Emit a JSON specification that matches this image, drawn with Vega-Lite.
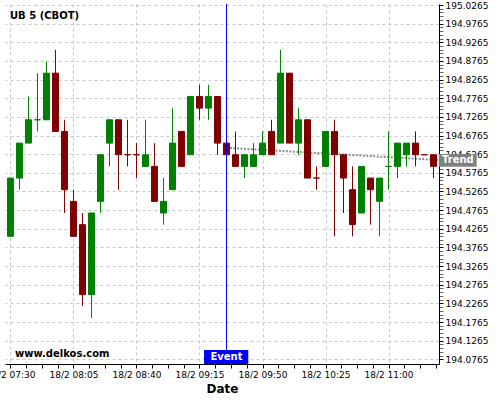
{
  "$schema": "https://vega.github.io/schema/vega-lite/v6.json",
  "width": 434,
  "height": 360,
  "autosize": {"type": "none"},
  "padding": {"left": 5, "top": 4, "right": 61, "bottom": 36},
  "background": "white",
  "config": {"view": {"stroke": null}, "font": "DejaVu Sans"},
  "datasets": {
    "candles": [
      {"t": "2025-02-18T07:30:00", "o": 194.40625, "h": 194.5625, "l": 194.40625, "c": 194.5625, "dir": "up"},
      {"t": "2025-02-18T07:35:00", "o": 194.5625, "h": 194.65625, "l": 194.53125, "c": 194.65625, "dir": "up"},
      {"t": "2025-02-18T07:40:00", "o": 194.65625, "h": 194.78125, "l": 194.65625, "c": 194.71875, "dir": "up"},
      {"t": "2025-02-18T07:45:00", "o": 194.71875, "h": 194.84375, "l": 194.6875, "c": 194.71875, "dir": "up"},
      {"t": "2025-02-18T07:50:00", "o": 194.71875, "h": 194.875, "l": 194.71875, "c": 194.84375, "dir": "up"},
      {"t": "2025-02-18T07:55:00", "o": 194.84375, "h": 194.90625, "l": 194.6875, "c": 194.6875, "dir": "down"},
      {"t": "2025-02-18T08:00:00", "o": 194.6875, "h": 194.71875, "l": 194.46875, "c": 194.53125, "dir": "down"},
      {"t": "2025-02-18T08:05:00", "o": 194.5, "h": 194.53125, "l": 194.40625, "c": 194.40625, "dir": "down"},
      {"t": "2025-02-18T08:10:00", "o": 194.4375, "h": 194.46875, "l": 194.21875, "c": 194.25, "dir": "down"},
      {"t": "2025-02-18T08:15:00", "o": 194.25, "h": 194.46875, "l": 194.1875, "c": 194.46875, "dir": "up"},
      {"t": "2025-02-18T08:20:00", "o": 194.5, "h": 194.625, "l": 194.46875, "c": 194.625, "dir": "up"},
      {"t": "2025-02-18T08:25:00", "o": 194.65625, "h": 194.71875, "l": 194.59375, "c": 194.71875, "dir": "up"},
      {"t": "2025-02-18T08:30:00", "o": 194.71875, "h": 194.71875, "l": 194.53125, "c": 194.625, "dir": "down"},
      {"t": "2025-02-18T08:35:00", "o": 194.625, "h": 194.71875, "l": 194.59375, "c": 194.625, "dir": "down"},
      {"t": "2025-02-18T08:40:00", "o": 194.625, "h": 194.65625, "l": 194.5625, "c": 194.625, "dir": "down"},
      {"t": "2025-02-18T08:45:00", "o": 194.59375, "h": 194.71875, "l": 194.59375, "c": 194.625, "dir": "up"},
      {"t": "2025-02-18T08:50:00", "o": 194.59375, "h": 194.65625, "l": 194.5, "c": 194.5, "dir": "down"},
      {"t": "2025-02-18T08:55:00", "o": 194.46875, "h": 194.5625, "l": 194.4375, "c": 194.5, "dir": "up"},
      {"t": "2025-02-18T09:00:00", "o": 194.53125, "h": 194.75, "l": 194.53125, "c": 194.65625, "dir": "up"},
      {"t": "2025-02-18T09:05:00", "o": 194.6875, "h": 194.6875, "l": 194.59375, "c": 194.59375, "dir": "down"},
      {"t": "2025-02-18T09:10:00", "o": 194.625, "h": 194.78125, "l": 194.625, "c": 194.78125, "dir": "up"},
      {"t": "2025-02-18T09:15:00", "o": 194.78125, "h": 194.8125, "l": 194.71875, "c": 194.75, "dir": "down"},
      {"t": "2025-02-18T09:20:00", "o": 194.75, "h": 194.8125, "l": 194.71875, "c": 194.78125, "dir": "up"},
      {"t": "2025-02-18T09:25:00", "o": 194.78125, "h": 194.78125, "l": 194.625, "c": 194.65625, "dir": "down"},
      {"t": "2025-02-18T09:30:00", "o": 194.65625, "h": 194.65625, "l": 194.625, "c": 194.625, "dir": "down"},
      {"t": "2025-02-18T09:35:00", "o": 194.625, "h": 194.6875, "l": 194.59375, "c": 194.59375, "dir": "down"},
      {"t": "2025-02-18T09:40:00", "o": 194.59375, "h": 194.625, "l": 194.5625, "c": 194.625, "dir": "up"},
      {"t": "2025-02-18T09:45:00", "o": 194.59375, "h": 194.65625, "l": 194.59375, "c": 194.625, "dir": "up"},
      {"t": "2025-02-18T09:50:00", "o": 194.625, "h": 194.6875, "l": 194.625, "c": 194.65625, "dir": "up"},
      {"t": "2025-02-18T09:55:00", "o": 194.6875, "h": 194.71875, "l": 194.625, "c": 194.625, "dir": "down"},
      {"t": "2025-02-18T10:00:00", "o": 194.65625, "h": 194.90625, "l": 194.65625, "c": 194.84375, "dir": "up"},
      {"t": "2025-02-18T10:05:00", "o": 194.84375, "h": 194.84375, "l": 194.65625, "c": 194.65625, "dir": "down"},
      {"t": "2025-02-18T10:10:00", "o": 194.65625, "h": 194.75, "l": 194.625, "c": 194.71875, "dir": "up"},
      {"t": "2025-02-18T10:15:00", "o": 194.71875, "h": 194.71875, "l": 194.5625, "c": 194.5625, "dir": "down"},
      {"t": "2025-02-18T10:20:00", "o": 194.5625, "h": 194.59375, "l": 194.53125, "c": 194.5625, "dir": "down"},
      {"t": "2025-02-18T10:25:00", "o": 194.59375, "h": 194.6875, "l": 194.59375, "c": 194.6875, "dir": "up"},
      {"t": "2025-02-18T10:30:00", "o": 194.6875, "h": 194.71875, "l": 194.40625, "c": 194.625, "dir": "down"},
      {"t": "2025-02-18T10:35:00", "o": 194.625, "h": 194.625, "l": 194.46875, "c": 194.5625, "dir": "down"},
      {"t": "2025-02-18T10:40:00", "o": 194.53125, "h": 194.59375, "l": 194.40625, "c": 194.4375, "dir": "down"},
      {"t": "2025-02-18T10:45:00", "o": 194.46875, "h": 194.59375, "l": 194.46875, "c": 194.59375, "dir": "up"},
      {"t": "2025-02-18T10:50:00", "o": 194.5625, "h": 194.5625, "l": 194.4375, "c": 194.53125, "dir": "down"},
      {"t": "2025-02-18T10:55:00", "o": 194.5, "h": 194.5625, "l": 194.40625, "c": 194.5625, "dir": "up"},
      {"t": "2025-02-18T11:00:00", "o": 194.59375, "h": 194.6875, "l": 194.53125, "c": 194.59375, "dir": "up"},
      {"t": "2025-02-18T11:05:00", "o": 194.59375, "h": 194.65625, "l": 194.5625, "c": 194.65625, "dir": "up"},
      {"t": "2025-02-18T11:10:00", "o": 194.625, "h": 194.65625, "l": 194.59375, "c": 194.65625, "dir": "up"},
      {"t": "2025-02-18T11:15:00", "o": 194.65625, "h": 194.6875, "l": 194.59375, "c": 194.625, "dir": "down"},
      {"t": "2025-02-18T11:20:00", "o": 194.625, "h": 194.625, "l": 194.625, "c": 194.625, "dir": "down"},
      {"t": "2025-02-18T11:25:00", "o": 194.625, "h": 194.625, "l": 194.5625, "c": 194.59375, "dir": "down"}
    ],
    "trend": [
      {"t": "2025-02-18T09:30:00", "v": 194.6436},
      {"t": "2025-02-18T11:28:00", "v": 194.6108}
    ],
    "event": [{"t": "2025-02-18T09:30:00", "label": "Event"}],
    "notes": [{"title": "UB 5 (CBOT)", "site": "www.delkos.com", "trend": "Trend"}]
  },
  "layer": [
    {
      "data": {"name": "trend"},
      "mark": {"type": "line", "color": "#8c8c8c", "strokeWidth": 2, "strokeDash": [2, 1.5]},
      "encoding": {
        "x": {"field": "t", "type": "temporal",
          "scale": {"domain": [{"year": 2025, "month": 2, "date": 18, "hours": 7, "minutes": 26, "seconds": 57}, {"year": 2025, "month": 2, "date": 18, "hours": 11, "minutes": 28, "seconds": 3}], "nice": false, "padding": 0},
          "axis": {
            "title": "Date", "titleFont": "DejaVu Sans", "titleFontSize": 12, "titleFontWeight": "bold", "titleColor": "black", "titlePadding": 4,
            "tickCount": 200,
            "values": [
              {"year": 2025, "month": 2, "date": 18, "hours": 7, "minutes": 30, "seconds": 0},
              {"year": 2025, "month": 2, "date": 18, "hours": 7, "minutes": 38, "seconds": 45},
              {"year": 2025, "month": 2, "date": 18, "hours": 7, "minutes": 47, "seconds": 30},
              {"year": 2025, "month": 2, "date": 18, "hours": 7, "minutes": 56, "seconds": 15},
              {"year": 2025, "month": 2, "date": 18, "hours": 8, "minutes": 5, "seconds": 0},
              {"year": 2025, "month": 2, "date": 18, "hours": 8, "minutes": 13, "seconds": 45},
              {"year": 2025, "month": 2, "date": 18, "hours": 8, "minutes": 22, "seconds": 30},
              {"year": 2025, "month": 2, "date": 18, "hours": 8, "minutes": 31, "seconds": 15},
              {"year": 2025, "month": 2, "date": 18, "hours": 8, "minutes": 40, "seconds": 0},
              {"year": 2025, "month": 2, "date": 18, "hours": 8, "minutes": 48, "seconds": 45},
              {"year": 2025, "month": 2, "date": 18, "hours": 8, "minutes": 57, "seconds": 30},
              {"year": 2025, "month": 2, "date": 18, "hours": 9, "minutes": 6, "seconds": 15},
              {"year": 2025, "month": 2, "date": 18, "hours": 9, "minutes": 15, "seconds": 0},
              {"year": 2025, "month": 2, "date": 18, "hours": 9, "minutes": 23, "seconds": 45},
              {"year": 2025, "month": 2, "date": 18, "hours": 9, "minutes": 32, "seconds": 30},
              {"year": 2025, "month": 2, "date": 18, "hours": 9, "minutes": 41, "seconds": 15},
              {"year": 2025, "month": 2, "date": 18, "hours": 9, "minutes": 50, "seconds": 0},
              {"year": 2025, "month": 2, "date": 18, "hours": 9, "minutes": 58, "seconds": 45},
              {"year": 2025, "month": 2, "date": 18, "hours": 10, "minutes": 7, "seconds": 30},
              {"year": 2025, "month": 2, "date": 18, "hours": 10, "minutes": 16, "seconds": 15},
              {"year": 2025, "month": 2, "date": 18, "hours": 10, "minutes": 25, "seconds": 0},
              {"year": 2025, "month": 2, "date": 18, "hours": 10, "minutes": 33, "seconds": 45},
              {"year": 2025, "month": 2, "date": 18, "hours": 10, "minutes": 42, "seconds": 30},
              {"year": 2025, "month": 2, "date": 18, "hours": 10, "minutes": 51, "seconds": 15},
              {"year": 2025, "month": 2, "date": 18, "hours": 11, "minutes": 0, "seconds": 0},
              {"year": 2025, "month": 2, "date": 18, "hours": 11, "minutes": 8, "seconds": 45},
              {"year": 2025, "month": 2, "date": 18, "hours": 11, "minutes": 17, "seconds": 30},
              {"year": 2025, "month": 2, "date": 18, "hours": 11, "minutes": 26, "seconds": 15}
            ],
            "labelExpr": "seconds(datum.value) == 0 ? timeFormat(datum.value, '%-d/%-m %H:%M') : ''",
            "labelFont": "DejaVu Sans", "labelFontSize": 9, "labelColor": "black",
            "labelOverlap": false, "labelBound": false, "labelFlush": false, "labelPadding": 2,
            "tickColor": "black", "tickSize": 4,
            "domainColor": "black",
            "grid": true, "gridColor": "#c8c8c8", "gridDash": [3, 3],
            "gridOpacity": {"condition": {"test": "seconds(datum.value) == 0", "value": 1}, "value": 0}
          }
        },
        "y": {"field": "v", "type": "quantitative",
          "scale": {"domain": [194.0639, 195.0292], "nice": false, "zero": false, "padding": 0},
          "axis": {
            "orient": "right", "title": null,
            "tickCount": 200,
            "values": [194.0765, 194.0865, 194.0965, 194.1065, 194.1165, 194.1265, 194.1365, 194.1465, 194.1565, 194.1665, 194.1765, 194.1865, 194.1965, 194.2065, 194.2165, 194.2265, 194.2365, 194.2465, 194.2565, 194.2665, 194.2765, 194.2865, 194.2965, 194.3065, 194.3165, 194.3265, 194.3365, 194.3465, 194.3565, 194.3665, 194.3765, 194.3865, 194.3965, 194.4065, 194.4165, 194.4265, 194.4365, 194.4465, 194.4565, 194.4665, 194.4765, 194.4865, 194.4965, 194.5065, 194.5165, 194.5265, 194.5365, 194.5465, 194.5565, 194.5665, 194.5765, 194.5865, 194.5965, 194.6065, 194.6165, 194.6265, 194.6365, 194.6465, 194.6565, 194.6665, 194.6765, 194.6865, 194.6965, 194.7065, 194.7165, 194.7265, 194.7365, 194.7465, 194.7565, 194.7665, 194.7765, 194.7865, 194.7965, 194.8065, 194.8165, 194.8265, 194.8365, 194.8465, 194.8565, 194.8665, 194.8765, 194.8865, 194.8965, 194.9065, 194.9165, 194.9265, 194.9365, 194.9465, 194.9565, 194.9665, 194.9765, 194.9865, 194.9965, 195.0065, 195.0165, 195.0265],
            "labelExpr": "abs(datum.value * 20 - floor(datum.value * 20) - 0.53) < 0.05 ? format(datum.value, '.4f') : ''",
            "labelFont": "DejaVu Sans", "labelFontSize": 9, "labelColor": "black",
            "labelOverlap": false, "labelBound": false, "labelFlush": false, "labelPadding": 2,
            "tickColor": "black", "tickSize": 4,
            "tickOpacity": {"condition": {"test": "abs(datum.value * 20 - floor(datum.value * 20) - 0.53) < 0.05", "value": 1}, "value": 0.6},
            "domainColor": "black",
            "grid": true, "gridColor": "#c8c8c8", "gridDash": [3, 3],
            "gridOpacity": {"condition": {"test": "abs(datum.value * 20 - floor(datum.value * 20) - 0.53) < 0.05", "value": 1}, "value": 0}
          }
        }
      }
    },
    {
      "data": {"name": "candles"},
      "mark": {"type": "rule", "strokeWidth": 1},
      "encoding": {
        "x": {"field": "t", "type": "temporal", "scale": {"domain": [{"year": 2025, "month": 2, "date": 18, "hours": 7, "minutes": 26, "seconds": 57}, {"year": 2025, "month": 2, "date": 18, "hours": 11, "minutes": 28, "seconds": 3}], "nice": false, "padding": 0}},
        "y": {"field": "l", "type": "quantitative", "scale": {"domain": [194.0639, 195.0292], "nice": false, "zero": false, "padding": 0}},
        "y2": {"field": "h"},
        "color": {"field": "dir", "type": "nominal", "scale": {"domain": ["up", "down"], "range": ["#008000", "#800000"]}, "legend": null}
      }
    },
    {
      "data": {"name": "candles"},
      "mark": {"type": "bar", "width": 6, "strokeWidth": 1},
      "encoding": {
        "x": {"field": "t", "type": "temporal", "scale": {"domain": [{"year": 2025, "month": 2, "date": 18, "hours": 7, "minutes": 26, "seconds": 57}, {"year": 2025, "month": 2, "date": 18, "hours": 11, "minutes": 28, "seconds": 3}], "nice": false, "padding": 0}},
        "y": {"field": "o", "type": "quantitative", "scale": {"domain": [194.0639, 195.0292], "nice": false, "zero": false, "padding": 0}},
        "y2": {"field": "c"},
        "color": {"field": "dir", "type": "nominal", "scale": {"domain": ["up", "down"], "range": ["#008000", "#800000"]}, "legend": null},
        "stroke": {"field": "dir", "type": "nominal", "scale": {"domain": ["up", "down"], "range": ["#008000", "#800000"]}, "legend": null}
      }
    },
    {
      "data": {"name": "event"},
      "mark": {"type": "rule", "color": "#0000ff", "strokeWidth": 1},
      "encoding": {
        "x": {"field": "t", "type": "temporal", "scale": {"domain": [{"year": 2025, "month": 2, "date": 18, "hours": 7, "minutes": 26, "seconds": 57}, {"year": 2025, "month": 2, "date": 18, "hours": 11, "minutes": 28, "seconds": 3}], "nice": false, "padding": 0}}
      }
    },
    {
      "data": {"name": "event"},
      "mark": {"type": "rect", "color": "#0000ff", "clip": false},
      "encoding": {
        "x": {"datum": {"year": 2025, "month": 2, "date": 18, "hours": 9, "minutes": 17, "seconds": 30}, "type": "temporal", "scale": {"domain": [{"year": 2025, "month": 2, "date": 18, "hours": 7, "minutes": 26, "seconds": 57}, {"year": 2025, "month": 2, "date": 18, "hours": 11, "minutes": 28, "seconds": 3}], "nice": false, "padding": 0}},
        "x2": {"datum": {"year": 2025, "month": 2, "date": 18, "hours": 9, "minutes": 42, "seconds": 6}},
        "y": {"datum": 194.1013, "type": "quantitative", "scale": {"domain": [194.0639, 195.0292], "nice": false, "zero": false, "padding": 0}},
        "y2": {"datum": 194.0639}
      }
    },
    {
      "data": {"name": "event"},
      "mark": {"type": "text", "color": "white", "font": "DejaVu Sans", "fontSize": 10, "fontWeight": "bold", "align": "center", "baseline": "middle", "clip": false},
      "encoding": {
        "x": {"field": "t", "type": "temporal", "scale": {"domain": [{"year": 2025, "month": 2, "date": 18, "hours": 7, "minutes": 26, "seconds": 57}, {"year": 2025, "month": 2, "date": 18, "hours": 11, "minutes": 28, "seconds": 3}], "nice": false, "padding": 0}},
        "y": {"datum": 194.0827, "type": "quantitative", "scale": {"domain": [194.0639, 195.0292], "nice": false, "zero": false, "padding": 0}},
        "text": {"field": "label"}
      }
    },
    {
      "data": {"name": "notes"},
      "mark": {"type": "rect", "color": "#808080", "clip": false},
      "encoding": {
        "x": {"datum": {"year": 2025, "month": 2, "date": 18, "hours": 11, "minutes": 28, "seconds": 3}, "type": "temporal", "scale": {"domain": [{"year": 2025, "month": 2, "date": 18, "hours": 7, "minutes": 26, "seconds": 57}, {"year": 2025, "month": 2, "date": 18, "hours": 11, "minutes": 28, "seconds": 3}], "nice": false, "padding": 0}},
        "x2": {"datum": {"year": 2025, "month": 2, "date": 18, "hours": 11, "minutes": 49, "seconds": 0}},
        "y": {"datum": 194.6269, "type": "quantitative", "scale": {"domain": [194.0639, 195.0292], "nice": false, "zero": false, "padding": 0}},
        "y2": {"datum": 194.5929}
      }
    },
    {
      "data": {"name": "notes"},
      "mark": {"type": "text", "color": "white", "font": "DejaVu Sans", "fontSize": 10, "fontWeight": "bold", "align": "left", "baseline": "middle", "clip": false},
      "encoding": {
        "x": {"datum": {"year": 2025, "month": 2, "date": 18, "hours": 11, "minutes": 29, "seconds": 43}, "type": "temporal", "scale": {"domain": [{"year": 2025, "month": 2, "date": 18, "hours": 7, "minutes": 26, "seconds": 57}, {"year": 2025, "month": 2, "date": 18, "hours": 11, "minutes": 28, "seconds": 3}], "nice": false, "padding": 0}},
        "y": {"datum": 194.6099, "type": "quantitative", "scale": {"domain": [194.0639, 195.0292], "nice": false, "zero": false, "padding": 0}},
        "text": {"field": "trend"}
      }
    },
    {
      "data": {"name": "notes"},
      "mark": {"type": "text", "color": "black", "font": "DejaVu Sans", "fontSize": 10, "fontWeight": "bold", "align": "left", "baseline": "alphabetic", "clip": false},
      "encoding": {
        "x": {"datum": {"year": 2025, "month": 2, "date": 18, "hours": 7, "minutes": 32, "seconds": 30}, "type": "temporal", "scale": {"domain": [{"year": 2025, "month": 2, "date": 18, "hours": 7, "minutes": 26, "seconds": 57}, {"year": 2025, "month": 2, "date": 18, "hours": 11, "minutes": 28, "seconds": 3}], "nice": false, "padding": 0}},
        "y": {"datum": 194.0833, "type": "quantitative", "scale": {"domain": [194.0639, 195.0292], "nice": false, "zero": false, "padding": 0}},
        "text": {"field": "site"}
      }
    },
    {
      "data": {"name": "notes"},
      "mark": {"type": "text", "color": "black", "font": "DejaVu Sans", "fontSize": 10, "fontWeight": "bold", "align": "left", "baseline": "alphabetic", "clip": false},
      "encoding": {
        "x": {"datum": {"year": 2025, "month": 2, "date": 18, "hours": 7, "minutes": 29, "seconds": 43}, "type": "temporal", "scale": {"domain": [{"year": 2025, "month": 2, "date": 18, "hours": 7, "minutes": 26, "seconds": 57}, {"year": 2025, "month": 2, "date": 18, "hours": 11, "minutes": 28, "seconds": 3}], "nice": false, "padding": 0}},
        "y": {"datum": 194.9882, "type": "quantitative", "scale": {"domain": [194.0639, 195.0292], "nice": false, "zero": false, "padding": 0}},
        "text": {"field": "title"}
      }
    }
  ]
}
